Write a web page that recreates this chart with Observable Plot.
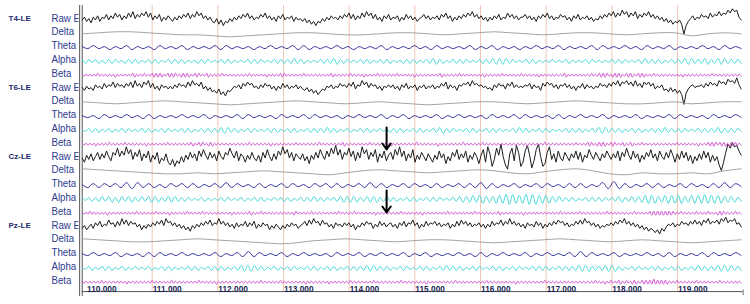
<!DOCTYPE html>
<html><head><meta charset="utf-8">
<script src="https://cdn.jsdelivr.net/npm/d3@7"></script>
<script src="https://cdn.jsdelivr.net/npm/@observablehq/plot@0.6"></script>
<style>html,body{margin:0;padding:0;background:#fff;overflow:hidden}</style>
</head><body><div id="chart"></div>
<script>
// ---------- DATA ----------
const channels = ["T4-LE", "T6-LE", "Cz-LE", "Pz-LE"];
const bands = ["Raw EEG", "Delta", "Theta", "Alpha", "Beta"];
const tickValues = [110, 111, 112, 113, 114, 115, 116, 117, 118, 119];
const tickLabels = ["110.000", "111.000", "112.000", "113.000", "114.000", "115.000", "116.000", "117.000", "118.000", "119.000"];
const timeStart = 109.935, timeEnd = 119.97;
const arrowTimes = [114.57, 114.57];
const arrowFromRow = [7.79, 12.36];
const arrowToRow = [9.38, 13.95];

const T4_raw = [0,2,-1,1,-2,2,0,3,-1,2,1,4,0,3,1,5,2,4,0,3,
1,5,2,6,1,4,2,5,3,6,2,5,0,3,1,4,-1,2,0,3,
1,-1,2,0,3,1,4,2,5,1,4,2,6,3,5,1,3,0,2,-1,
-2,1,-3,0,-4,-1,-2,1,-1,2,0,3,1,4,2,5,1,3,0,2,
1,4,2,5,1,3,0,2,-1,3,1,4,0,2,1,3,-1,2,0,1,
-1,1,-2,0,-3,-1,-4,-1,-2,1,-1,2,0,3,1,2,0,3,1,4,
2,5,1,4,0,3,1,5,2,6,3,5,1,4,0,2,-1,3,1,4,
0,2,1,3,-1,2,0,4,1,3,0,2,-1,1,2,4,1,3,0,2,
1,3,0,4,2,5,1,3,-1,2,0,3,1,4,2,5,3,6,2,4,
1,3,0,2,-1,2,0,3,1,4,0,2,1,5,2,4,1,3,0,2,
2,4,1,3,0,2,-1,3,1,4,2,5,1,3,0,2,1,4,2,3,
0,2,-1,3,1,4,0,2,1,3,0,2,-1,1,0,3,1,4,2,5,
3,6,2,5,3,7,4,6,2,5,3,6,1,4,2,5,3,6,2,4,
1,3,0,2,-1,1,-2,0,-3,-1,-2,0,-3,-10,-4,-1,1,3,0,2,
1,4,2,3,1,5,2,4,3,6,3,5,4,7,5,8,6,7,2,0];
const T6_raw = [1,-1,2,0,1,-1,3,1,2,0,4,1,3,2,5,1,4,2,3,1,
4,2,5,1,6,2,4,1,5,3,6,1,4,0,2,-1,3,1,2,0,
2,0,3,1,4,2,3,1,5,2,6,3,4,2,5,0,2,-1,1,-2,
-1,-3,0,-4,-2,-5,-1,-2,0,2,1,3,0,4,2,5,3,4,1,2,
0,3,1,4,2,3,0,2,-1,2,0,4,1,3,0,2,1,3,0,2,
0,-1,1,-2,0,-3,-1,-4,-2,0,-1,2,1,3,0,2,1,4,2,3,
1,4,2,5,0,3,2,6,3,5,1,4,2,3,0,2,-1,2,1,3,
1,3,0,2,-1,3,1,4,0,2,1,3,-1,2,1,3,0,2,1,3,
0,2,1,4,2,5,0,3,1,2,-1,3,2,4,3,5,2,6,3,4,
2,3,1,2,0,1,-1,3,1,4,2,3,0,4,2,5,1,3,1,2,
1,3,2,4,0,3,1,2,-1,4,2,5,3,4,1,3,0,3,2,4,
1,3,0,2,-1,2,1,4,0,3,1,2,0,2,1,4,2,3,1,4,
2,5,3,6,2,5,4,6,3,5,2,6,2,4,1,5,3,5,2,4,
0,2,1,3,-1,0,-2,1,-2,0,-3,-1,-4,-11,-3,0,2,3,1,2,
2,3,1,4,2,5,3,4,2,6,4,5,3,7,5,6,4,8,3,0];
const Cz_raw = [0,-3,2,-1,3,-2,1,4,-1,3,0,5,1,-2,4,2,7,1,5,2,
8,3,6,-1,4,1,6,-2,3,0,5,-3,2,-1,4,-4,0,-2,3,-3,
-5,-1,-6,-2,-4,1,-3,2,-1,4,0,3,-2,5,1,6,2,-1,4,0,
3,-2,5,1,-1,4,2,7,3,0,5,-2,3,1,-3,2,-1,4,0,-2,
2,-3,4,0,6,1,-2,3,-1,5,2,8,3,6,0,4,-2,3,1,-1,
3,-2,1,-4,2,-1,4,0,6,2,-1,5,1,7,3,9,2,6,-1,4,
2,7,1,5,-2,4,0,8,3,6,-1,4,1,6,-3,3,0,5,-2,2,
4,-1,6,2,8,1,5,-2,3,0,6,-3,2,-1,4,1,-2,3,0,-3,
2,-1,5,0,3,-4,1,-2,4,1,6,-1,3,0,5,-3,2,-1,4,1,
-4,2,6,-3,8,3,-6,-1,7,2,10,1,-5,-8,3,7,-2,9,4,-6,
-3,5,9,2,-7,-2,6,10,1,-6,-4,4,8,-1,3,-3,5,0,-2,4,
1,-2,3,0,5,-1,4,-3,2,0,6,2,-1,4,1,-2,3,0,5,2,
-1,3,0,5,-2,4,1,7,2,-1,5,0,3,-3,2,-1,4,1,6,0,
3,-2,5,1,-1,4,0,6,2,-3,3,-1,5,0,4,-2,2,-4,1,-2,
3,-1,5,0,4,-3,2,-2,1,-5,-9,-3,4,10,7,11,8,9,5,2];
const Pz_raw = [-1,1,-2,0,2,-1,3,1,4,0,2,1,5,2,3,0,4,1,6,2,
5,1,4,2,3,0,2,-2,1,-1,2,0,3,1,4,2,5,1,6,3,
4,1,3,0,2,-1,1,-2,0,-3,1,-1,2,0,3,1,4,2,5,1,
3,2,6,2,4,1,3,0,2,-1,3,0,2,1,4,0,3,1,4,-1,
2,0,3,1,2,-2,1,-1,2,0,-2,1,-1,2,0,3,1,2,-1,1,
2,4,1,5,2,6,3,4,1,5,2,3,0,2,-1,3,1,2,0,3,
1,3,0,2,-2,1,0,3,1,4,2,3,-1,2,0,4,1,3,0,2,
3,0,2,-1,3,1,4,0,3,2,5,1,3,-1,2,0,4,1,3,2,
4,1,3,0,2,1,3,-1,2,0,4,1,5,2,4,1,3,0,2,1,
3,0,2,-1,2,0,4,1,3,2,5,1,4,2,6,2,4,1,3,0,
2,-1,3,1,2,0,4,1,3,-1,2,0,3,1,4,2,5,3,4,1,
3,0,2,1,4,2,5,2,6,3,4,1,3,0,2,-1,1,0,2,1,
3,1,4,2,5,3,6,2,4,1,3,0,2,-1,1,-2,0,-3,-1,-2,
-4,-2,-5,-1,-3,0,2,1,3,0,2,1,4,2,3,1,4,2,5,2,
4,1,5,3,6,2,4,3,5,2,6,4,7,3,5,4,6,2,3,0];

const T4_delta = [0,1,2,2,1,0,-1,-1,-2,-3,-2,-1,0,1,1,0,-1,-1,0,1,1,0,-1,0,1,2,1,0,-1,0,1,1,0,-1,0,1,1,-2,0,1,0];
const T6_delta = [1,0,-1,0,1,2,1,0,-1,-2,-1,0,1,2,1,0,-1,0,1,0,-1,-2,-1,0,1,1,0,-1,0,1,2,1,0,-1,-1,0,1,-1,0,1,1];
const Cz_delta = [3,2,1,0,-1,-2,-2,-1,-2,-1,0,1,0,-1,-2,-3,-1,1,2,1,0,-1,0,1,2,1,-1,-2,0,2,3,1,-2,-3,-1,-2,-2,-1,-2,1,3];
const Pz_delta = [2,1,0,-1,-1,0,1,2,1,0,-1,-2,-3,-2,0,1,2,1,0,-1,0,1,1,0,-1,-2,-1,0,1,2,1,0,-1,0,1,0,-1,-2,-1,0,1];

const T4_theta = [1,-1,2,-1,1,-2,1,-1,2,-2,1,-1,1,-2,2,-1,1,-1,2,-2,
1,-1,1,-1,2,-2,2,-1,1,-1,1,-2,1,-1,2,-1,1,-1,2,-2,
2,-2,1,-1,1,-1,2,-1,1,-2,1,-1,1,-1,2,-2,1,-1,1,-1,
2,-1,1,-2,2,-1,1,-1,1,-1,2,-2,1,-1,2,-2,1,-1,1,-2,
1,-1,2,-1,1,-1,2,-2,1,-1,1,-1,2,-2,2,-1,1,-1,2,-1,
1,-2,2,-1,1,-1,2,-2,1,-1,1,-1,2,-1,1,-2,2,-1,1,-1];
const T6_theta = [1,-1,1,-2,2,-1,1,-1,2,-1,1,-2,2,-2,1,-1,1,-1,2,-1,
1,-1,2,-2,1,-1,1,-1,2,-2,2,-1,1,-1,1,-2,2,-1,1,-1,
2,-2,2,-1,1,-1,1,-2,1,-1,2,-1,1,-1,2,-2,1,-1,2,-2,
1,-1,1,-1,2,-2,1,-1,2,-1,1,-1,1,-2,2,-1,1,-1,2,-2,
2,-1,1,-1,1,-2,2,-2,1,-1,2,-1,1,-1,2,-2,1,-1,1,-1,
2,-2,1,-1,1,-1,2,-2,2,-1,1,-1,1,-2,2,-1,1,-1,2,-1];
const Cz_theta = [1,-2,2,-2,2,-1,2,-2,3,-3,3,-2,2,-2,1,-2,2,-1,2,-2,
2,-2,1,-1,2,-2,3,-2,2,-1,1,-2,2,-2,1,-1,2,-2,2,-1,
1,-2,2,-1,2,-2,2,-2,1,-1,2,-2,3,-2,2,-2,1,-1,2,-2,
2,-1,1,-2,2,-2,1,-1,2,-2,2,-2,3,-3,2,-2,1,-1,2,-2,
1,-1,2,-2,2,-1,1,-2,2,-2,2,-2,1,-1,3,-3,4,-3,2,-2,
1,-1,2,-2,2,-2,1,-1,2,-2,2,-1,1,-2,2,-2,3,-2,2,-1];
const Pz_theta = [1,-1,2,-1,1,-1,2,-2,1,-1,1,-2,2,-2,2,-1,1,-1,2,-1,
1,-1,1,-1,2,-2,1,-1,2,-2,3,-2,2,-1,1,-1,2,-2,1,-1,
2,-1,1,-1,1,-2,2,-1,1,-1,2,-2,1,-1,2,-1,1,-1,2,-2,
1,-1,2,-2,1,-1,1,-1,2,-1,1,-2,2,-2,1,-1,2,-1,1,-1,
2,-2,1,-1,2,-1,1,-1,2,-2,3,-2,2,-1,1,-1,2,-2,1,-1,
1,-1,2,-1,1,-2,2,-2,1,-1,1,-1,2,-2,2,-1,1,-1,2,-1];

const T4_alpha = [2,-2,2,-1,2,-2,1,-2,2,-2,2,-1,1,-2,2,-2,2,-2,1,-1,
2,-2,2,-2,1,-1,2,-2,2,-2,2,-2,1,-1,1,-2,2,-2,2,-1,
1,-1,2,-2,2,-2,1,-1,1,-1,2,-2,2,-2,2,-1,1,-1,2,-2,
2,-2,2,-2,3,-2,2,-2,1,-1,1,-1,2,-2,2,-2,3,-3,2,-2,
2,-1,1,-1,2,-2,2,-2,1,-1,2,-2,2,-2,1,-1,1,-2,2,-2,
2,-2,1,-1,2,-2,3,-3,2,-2,1,-1,2,-2,2,-2,2,-1,1,-1,
2,-2,2,-2,3,-3,3,-3,3,-2,2,-1,1,-1,2,-2,2,-2,1,-1,
1,-1,2,-1,1,-1,2,-2,1,-1,1,-1,2,-2,2,-1,1,-1,1,-1,
2,-2,2,-2,2,-1,1,-1,2,-2,3,-2,2,-2,2,-2,1,-1,2,-2,
2,-2,3,-3,3,-2,2,-2,3,-3,2,-2,3,-3,3,-2,2,-2,2,-2];
const T6_alpha = [1,-1,2,-2,2,-2,1,-1,2,-2,1,-1,2,-2,2,-1,1,-1,2,-2,
2,-2,1,-1,2,-2,2,-1,1,-1,2,-2,2,-2,1,-1,2,-2,2,-2,
2,-2,3,-3,3,-2,2,-2,1,-1,2,-2,2,-1,1,-1,2,-2,2,-2,
1,-1,2,-2,2,-2,1,-1,2,-2,2,-2,2,-2,3,-2,2,-2,1,-1,
2,-2,1,-1,2,-2,2,-2,1,-1,2,-1,1,-2,2,-2,2,-2,1,-1,
2,-2,2,-2,1,-1,2,-2,3,-3,2,-2,2,-1,1,-1,2,-2,2,-2,
1,-1,2,-2,2,-2,2,-1,1,-1,2,-2,3,-2,2,-2,1,-1,2,-2,
2,-2,1,-1,1,-1,2,-2,2,-2,2,-2,1,-1,2,-2,3,-3,3,-2,
2,-2,2,-2,1,-1,2,-2,2,-2,1,-1,2,-2,2,-2,3,-2,2,-2,
2,-2,2,-1,1,-1,2,-2,2,-2,2,-2,3,-3,2,-2,2,-2,2,-1];
const Cz_alpha = [2,-1,2,-2,2,-2,3,-2,3,-3,2,-3,3,-2,3,-3,2,-2,3,-2,
3,-3,3,-3,2,-2,3,-3,3,-2,2,-2,2,-1,1,-1,2,-2,1,-1,
1,-1,2,-2,2,-1,1,-1,2,-2,1,-1,2,-2,2,-2,1,-1,2,-1,
2,-2,2,-2,1,-1,2,-2,2,-2,3,-2,2,-2,2,-1,2,-2,3,-3,
3,-3,3,-3,2,-2,3,-3,3,-3,2,-2,3,-2,2,-2,1,-1,2,-2,
2,-2,1,-1,2,-2,2,-2,2,-1,1,-1,2,-2,3,-3,3,-3,4,-3,
4,-4,3,-3,3,-4,4,-4,5,-5,5,-4,4,-4,5,-5,5,-5,4,-4,
4,-4,3,-3,3,-2,2,-2,2,-2,1,-1,2,-2,2,-2,2,-2,2,-1,
2,-2,3,-3,2,-2,3,-3,3,-3,4,-4,4,-4,3,-3,4,-4,4,-4,
4,-4,3,-3,4,-4,4,-4,5,-4,4,-4,4,-4,3,-3,3,-3,2,-2];
const Pz_alpha = [1,-1,2,-2,1,-1,2,-2,2,-2,1,-1,2,-2,1,-1,2,-1,1,-1,
2,-2,1,-1,2,-2,2,-2,1,-1,1,-1,2,-2,2,-2,1,-1,2,-2,
2,-2,2,-2,1,-1,2,-2,3,-3,3,-3,3,-2,2,-2,1,-1,2,-2,
1,-1,2,-2,2,-1,1,-1,2,-2,2,-2,1,-1,2,-2,2,-2,1,-1,
2,-2,2,-2,2,-2,3,-3,3,-2,2,-2,2,-2,1,-1,2,-2,2,-1,
1,-1,2,-2,2,-2,1,-1,2,-2,3,-2,2,-2,2,-2,1,-1,2,-2,
2,-1,1,-1,2,-2,2,-2,1,-1,2,-2,2,-1,1,-1,2,-2,2,-2,
2,-2,1,-1,2,-2,2,-2,2,-2,3,-3,3,-3,2,-2,2,-2,3,-3,
3,-3,2,-2,1,-1,2,-2,2,-1,1,-1,2,-2,2,-2,1,-1,2,-2,
2,-2,1,-1,2,-2,3,-2,2,-2,2,-2,3,-3,3,-3,3,-2,2,-2];

const T4_beta = [1,-1,1,-1,1,-1,1,-1,2,-1,1,-1,1,-1,1,-1,1,-2,1,-1,
1,-1,1,-1,1,-1,2,-2,1,-1,1,-1,2,-1,1,-1,2,-2,2,-2,
2,-2,1,-1,2,-2,2,-2,2,-1,1,-2,2,-2,2,-2,1,-1,2,-2,
2,-1,1,-1,2,-2,1,-1,1,-1,1,-1,2,-1,1,-1,1,-1,1,-1,
1,-1,1,-1,1,-1,2,-1,1,-1,1,-1,1,-1,1,-2,1,-1,1,-1,
1,-1,2,-2,2,-1,1,-1,1,-1,1,-1,1,-1,2,-1,1,-1,1,-1,
1,-1,1,-1,1,-1,1,-1,2,-2,1,-1,1,-1,1,-1,1,-1,2,-1,
1,-1,1,-1,1,-2,1,-1,1,-1,1,-1,2,-1,1,-1,1,-1,1,-1,
1,-1,2,-1,1,-1,1,-1,1,-1,1,-2,1,-1,1,-1,1,-1,1,-1,
1,-1,1,-1,2,-2,1,-1,1,-1,1,-1,1,-1,2,-1,1,-1,1,-1,
1,-1,1,-1,1,-1,1,-2,1,-1,1,-1,1,-1,1,-1,2,-1,1,-1,
1,-1,1,-1,1,-1,2,-1,1,-1,1,-1,1,-1,1,-2,1,-1,1,-1,
1,-1,1,-1,1,-1,1,-1,2,-2,1,-1,1,-1,1,-1,1,-1,1,-1,
1,-1,2,-1,1,-1,2,-2,2,-2,2,-1,1,-2,2,-2,2,-2,1,-1,
2,-2,2,-2,1,-1,2,-2,2,-2,1,-1,1,-1,2,-1,1,-1,1,-1,
1,-1,1,-1,1,-1,1,-1,1,-2,1,-1,1,-1,1,-1,1,-1,1,-1,
1,-1,1,-1,2,-1,1,-1,1,-1,1,-1,1,-1,1,-1,1,-1,1,-1];
const T6_beta = [1,-1,1,-1,1,-1,1,-2,1,-1,1,-1,1,-1,2,-1,1,-1,1,-1,
1,-1,2,-1,1,-1,1,-1,1,-1,1,-1,1,-2,1,-1,1,-1,1,-1,
1,-1,1,-1,2,-1,1,-1,1,-1,1,-1,1,-1,1,-1,2,-2,1,-1,
2,-2,2,-1,1,-2,2,-2,1,-1,1,-1,1,-1,1,-1,1,-1,1,-1,
1,-1,1,-1,1,-1,2,-1,1,-1,1,-1,1,-1,1,-1,1,-2,1,-1,
1,-1,1,-1,1,-1,1,-1,1,-1,2,-1,1,-1,1,-1,1,-1,1,-1,
1,-1,2,-1,1,-1,1,-1,1,-1,1,-1,1,-1,2,-2,1,-1,1,-1,
1,-1,1,-1,1,-1,1,-1,2,-1,1,-1,1,-1,1,-1,1,-1,1,-2,
1,-1,1,-1,1,-1,1,-1,1,-1,1,-1,2,-1,1,-1,1,-1,1,-1,
1,-1,1,-2,1,-1,1,-1,1,-1,1,-1,1,-1,1,-1,2,-1,1,-1,
1,-1,1,-1,1,-1,2,-1,1,-1,1,-1,1,-1,1,-1,1,-1,1,-1,
1,-1,1,-1,1,-1,1,-1,1,-2,1,-1,1,-1,1,-1,1,-1,2,-1,
1,-1,1,-1,1,-1,1,-1,1,-1,1,-1,1,-1,2,-1,1,-1,1,-1,
2,-2,2,-1,1,-2,2,-2,2,-2,1,-1,2,-2,2,-1,1,-1,2,-2,
1,-1,2,-2,1,-1,1,-1,2,-1,1,-1,1,-1,1,-1,1,-1,1,-1,
1,-1,1,-1,1,-1,2,-1,1,-1,1,-1,1,-1,1,-1,1,-2,1,-1,
1,-1,2,-2,2,-2,2,-1,2,-2,2,-2,1,-2,2,-2,2,-1,1,-1];
const Cz_beta = [1,-1,1,-1,2,-1,1,-1,1,-1,1,-1,1,-2,1,-1,1,-1,1,-1,
1,-1,1,-1,1,-1,1,-1,2,-1,1,-1,1,-1,1,-1,1,-1,2,-1,
1,-1,1,-1,1,-2,1,-1,1,-1,1,-1,1,-1,2,-1,1,-1,1,-1,
1,-1,2,-1,1,-1,1,-1,1,-1,1,-1,1,-1,1,-1,1,-2,1,-1,
1,-1,1,-1,1,-1,2,-2,1,-1,1,-1,2,-1,1,-1,1,-1,1,-1,
1,-1,1,-1,1,-1,1,-1,1,-2,2,-1,1,-1,1,-1,1,-1,2,-1,
1,-1,1,-1,1,-1,1,-1,1,-1,1,-1,2,-1,1,-1,1,-1,1,-1,
2,-1,1,-1,1,-1,1,-1,1,-1,1,-2,1,-1,1,-1,1,-1,1,-1,
1,-1,1,-1,2,-1,1,-1,1,-1,1,-1,1,-1,1,-2,1,-1,1,-1,
1,-1,1,-1,1,-1,1,-1,2,-1,1,-1,1,-1,1,-1,1,-1,1,-1,
1,-1,2,-1,1,-1,1,-1,1,-1,1,-1,1,-1,2,-2,1,-1,1,-1,
1,-1,1,-1,1,-1,1,-2,1,-1,1,-1,1,-1,1,-1,1,-1,1,-1,
1,-1,1,-1,1,-1,2,-1,1,-1,1,-1,1,-1,1,-1,2,-1,1,-1,
1,-1,1,-1,1,-1,1,-1,1,-1,2,-1,1,-1,1,-1,1,-1,1,-1,
1,-1,1,-1,2,-1,1,-1,1,-1,1,-1,2,-2,2,-2,2,-2,2,-2,
2,-2,2,-2,2,-1,1,-1,2,-1,1,-1,1,-1,1,-1,2,-1,1,-1,
1,-1,2,-1,1,-1,1,-2,2,-2,2,-1,1,-1,1,-1,2,-1,1,-1];
const Pz_beta = [1,-1,1,-1,1,-1,1,-1,1,-1,2,-1,1,-1,1,-1,1,-1,1,-1,
1,-1,1,-2,1,-1,1,-1,1,-1,1,-1,1,-1,1,-1,2,-1,1,-1,
1,-1,1,-1,1,-1,2,-1,1,-1,1,-1,1,-1,1,-1,1,-1,1,-1,
2,-1,1,-1,1,-1,1,-1,1,-2,1,-1,1,-1,1,-1,1,-1,1,-1,
1,-1,1,-1,1,-1,1,-1,1,-1,1,-1,2,-1,1,-1,1,-1,1,-1,
1,-1,2,-1,1,-1,1,-1,1,-1,1,-1,1,-1,1,-2,1,-1,1,-1,
1,-1,1,-1,1,-1,1,-2,1,-1,1,-1,1,-1,1,-1,1,-1,2,-1,
1,-1,1,-1,1,-1,1,-1,1,-1,2,-1,1,-1,1,-1,1,-1,1,-1,
1,-1,1,-1,2,-1,1,-1,1,-1,1,-1,1,-1,1,-1,1,-2,1,-1,
1,-1,1,-1,1,-1,1,-1,1,-1,1,-1,2,-1,1,-1,1,-1,1,-1,
1,-1,1,-1,1,-1,1,-1,2,-1,1,-1,1,-1,1,-1,1,-1,1,-1,
1,-1,1,-2,1,-1,1,-1,1,-1,1,-1,1,-1,1,-1,1,-1,2,-1,
1,-1,1,-1,1,-1,1,-1,1,-1,1,-1,1,-1,1,-1,1,-1,1,-1,
1,-1,1,-1,2,-1,1,-1,1,-2,1,-1,2,-1,1,-1,2,-2,1,-1,
2,-1,1,-2,2,-2,1,-1,2,-2,2,-2,2,-2,3,-2,2,-2,2,-2,
2,-2,1,-1,1,-1,2,-1,1,-1,1,-1,1,-1,1,-1,2,-1,1,-1,
1,-1,1,-1,1,-1,1,-1,2,-1,1,-1,1,-1,1,-1,1,-1,1,-1];

const traceValues = [
  T4_raw, T4_delta, T4_theta, T4_alpha, T4_beta,
  T6_raw, T6_delta, T6_theta, T6_alpha, T6_beta,
  Cz_raw, Cz_delta, Cz_theta, Cz_alpha, Cz_beta,
  Pz_raw, Pz_delta, Pz_theta, Pz_alpha, Pz_beta
];

// ---------- STYLE ----------
const bandColors = {"Raw EEG": "#1c1c1c", "Delta": "#a3a3a3", "Theta": "#34349e", "Alpha": "#45d8d8", "Beta": "#d050d0"};
const bandCurves = {"Raw EEG": "linear", "Delta": "catmull-rom", "Theta": "catmull-rom", "Alpha": "catmull-rom", "Beta": "catmull-rom"};
const bandGain = {"Raw EEG": 1.4, "Delta": 1, "Theta": 1, "Alpha": 1, "Beta": 1};
const pxPerRow = 13.8;
const labelColor = "#2e3b8f";
const gridColor = "#f0c6b6";
const axisRow = 19.68, topRow = -1.05;

// ---------- BUILD ----------
const samples = [];
const rowsInfo = [];
traceValues.forEach((vals, k) => {
  const band = bands[k % 5];
  rowsInfo.push({row: k, band, channel: channels[Math.floor(k / 5)]});
  const n = vals.length;
  vals.forEach((v, i) => samples.push({
    trace: k, band,
    t: timeStart + i * (timeEnd - timeStart) / (n - 1),
    r: k - v * bandGain[band] / pxPerRow
  }));
});
const channelRows = rowsInfo.filter(d => d.band === "Raw EEG");
const ticks = tickValues.map((v, i) => ({v, label: tickLabels[i]}));
const arrows = arrowTimes.map((t, i) => ({t, r1: arrowFromRow[i], r2: arrowToRow[i]}));

const bandFont = "'Liberation Sans', Arial, sans-serif";
const boldFont = "'Liberation Sans', Arial, sans-serif";

const chart = Plot.plot({
  width: 750, height: 304,
  marginLeft: 0, marginRight: 0, marginTop: 0, marginBottom: 0,
  x: {domain: [108.6904, 120.1117], axis: null},
  y: {domain: [-1.413, 20.616], reverse: true, axis: null},
  style: {background: "#ffffff", overflow: "visible"},
  marks: [
    Plot.ruleX(tickValues.slice(1), {y1: topRow, y2: axisRow, stroke: gridColor, strokeWidth: 1}),
    Plot.ruleX([timeStart], {y1: topRow, y2: axisRow + 0.35, stroke: "#555", strokeWidth: 1}),
    Plot.ruleX([timeStart], {y1: topRow, y2: axisRow + 0.35, stroke: "#555", strokeWidth: 1, dx: -2.6}),
    Plot.ruleY([axisRow], {x1: timeStart, x2: timeEnd + 0.03, stroke: "#555", strokeWidth: 1}),
    Plot.ruleX([timeEnd + 0.03], {y1: axisRow - 0.12, y2: axisRow + 0.3, stroke: "#777", strokeWidth: 1}),
    ...bands.map(b => Plot.line(samples.filter(d => d.band === b), {
      x: "t", y: "r", z: "trace", stroke: bandColors[b], strokeWidth: 1,
      curve: bandCurves[b]
    })),
    Plot.text(rowsInfo, {y: "row", text: "band", frameAnchor: "left", dx: 51, dy: -2,
      textAnchor: "start", fill: labelColor, fontSize: 11.5, fontFamily: bandFont}),
    Plot.text(channelRows, {y: "row", text: "channel", frameAnchor: "left", dx: 8, dy: -2,
      textAnchor: "start", fill: "#1e2a6e", fontSize: 8, fontWeight: "bold", fontFamily: boldFont}),
    Plot.text(ticks, {x: "v", text: "label", frameAnchor: "bottom", dy: -13, textAnchor: "start",
      fill: "#1a1f4f", fontSize: 8.3, fontWeight: "bold", fontFamily: boldFont, dx: 0.5}),
    Plot.arrow(arrows, {x1: "t", x2: "t", y1: "r1", y2: "r2", stroke: "#000", strokeWidth: 2,
      headLength: 8, headAngle: 70})
  ]
});
document.getElementById("chart").appendChild(chart);

// condense band labels and clip "Raw EEG" at the left frame
const svg = d3.select(chart);
const defs = svg.append("defs");
const frameLeftPx = 78.5;
const condense = 0.84;
svg.selectAll("text").filter(function() { return bands.includes(this.textContent); }).each(function() {
  const w = this.getComputedTextLength();
  d3.select(this).attr("textLength", w * condense).attr("lengthAdjust", "spacingAndGlyphs");
});
svg.selectAll("text").filter(function() { return this.textContent === "Raw EEG"; }).each(function(d, i) {
  const box = this.getBoundingClientRect();
  const svgBox = chart.getBoundingClientRect();
  const left = box.left - svgBox.left;
  const frac = Math.max(0, Math.min(1, (frameLeftPx - left) / box.width));
  const id = "rawclip" + i;
  defs.append("clipPath").attr("id", id).attr("clipPathUnits", "objectBoundingBox")
    .append("rect").attr("x", -0.1).attr("y", -0.5).attr("width", frac + 0.1).attr("height", 2);
  d3.select(this).attr("clip-path", `url(#${id})`);
});
</script>
</body></html>
